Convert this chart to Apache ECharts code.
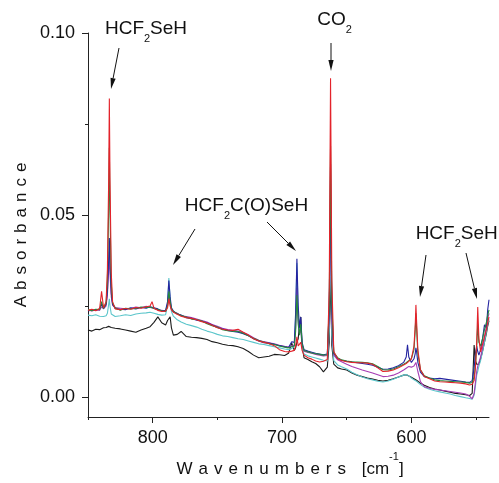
<!DOCTYPE html>
<html>
<head>
<meta charset="utf-8">
<script src="https://cdn.jsdelivr.net/npm/echarts@6/dist/echarts.min.js"></script>
<style>html,body{margin:0;padding:0;background:#fff;}#c{width:499px;height:483px;}</style>
</head>
<body>
<div id="c"></div>
<script>
// Wavenumbers (cm-1)
var wavenumbers = [850, 847, 844, 841, 839.5, 838, 836, 835, 834, 833.5,
 833, 832, 831, 829, 825, 821, 817, 813, 809, 805,
 802, 800.5, 799, 796, 793, 790, 788.5, 787.5, 786.5, 785.5,
 784, 781, 778, 774, 770, 766, 762, 758, 754, 750,
 746, 742, 738, 734, 730, 726, 722, 718, 714, 710,
 706, 702, 698, 695, 692.5, 690.5, 689.5, 688.5, 687.5, 686.5,
 685.5, 684.5, 683, 680, 677, 674, 671, 668, 665, 663.5,
 662.5, 661.5, 660, 657, 654, 650, 646, 642, 638, 634,
 630, 626, 622, 618, 614, 610, 606, 604, 603, 602,
 600, 598, 597, 596.5, 596, 595, 593, 590, 586, 582,
 578, 574, 570, 566, 562, 558, 555, 553, 551.5, 550.5,
 549.5, 548.7, 547.8, 546.5, 545, 543.5, 542, 541, 540];

var redSpec = [.0238, .0241, .0237, .0243, .0290, .0245, .0262, .0350, .0600, .0820,
 .0600, .0340, .0262, .0242, .0240, .0243, .0241, .0246, .0244, .0248,
 .0250, .0262, .0244, .0238, .0235, .0236, .0245, .0270, .0250, .0240,
 .0233, .0227, .0222, .0218, .0216, .0212, .0207, .0203, .0197, .0190,
 .0186, .0184, .0183, .0186, .0178, .0170, .0160, .0154, .0150, .0147,
 .0141, .0130, .0125, .0124, .0126, .0128, .0140, .0165, .0140, .0135,
 .0150, .0128, .0115, .0108, .0104, .0099, .0096, .0098, .0103, .0300,
 .0876, .0320, .0125, .0105, .0100, .0097, .0095, .0094, .0094, .0093,
 .0090, .0080, .0070, .0071, .0074, .0080, .0088, .0092, .0095, .0098,
 .0105, .0140, .0200, .0253, .0210, .0130, .0075, .0056, .0050, .0044,
 .0042, .0041, .0040, .0039, .0038, .0036, .0033, .0035, .0045, .0080,
 .0150, .0247, .0160, .0124, .0145, .0165, .0185, .0205, .0220];

var greenSpec = [.0240, .0237, .0241, .0240, .0262, .0243, .0258, .0320, .0520, .0685,
 .0510, .0310, .0258, .0245, .0238, .0244, .0242, .0243, .0247, .0246,
 .0247, .0250, .0243, .0240, .0237, .0235, .0250, .0290, .0262, .0242,
 .0235, .0229, .0224, .0220, .0214, .0213, .0209, .0201, .0196, .0192,
 .0185, .0182, .0181, .0180, .0175, .0168, .0161, .0155, .0151, .0146,
 .0144, .0140, .0137, .0135, .0138, .0140, .0180, .0280, .0200, .0170,
 .0200, .0145, .0128, .0124, .0121, .0119, .0117, .0115, .0116, .0250,
 .0690, .0260, .0122, .0108, .0102, .0099, .0097, .0096, .0095, .0094,
 .0091, .0084, .0075, .0074, .0077, .0083, .0090, .0094, .0097, .0100,
 .0105, .0130, .0185, .0230, .0190, .0120, .0075, .0058, .0052, .0047,
 .0045, .0044, .0043, .0042, .0041, .0040, .0038, .0040, .0055, .0085,
 .0140, .0200, .0150, .0140, .0160, .0185, .0205, .0225, .0239];

var navySpec = [.0236, .0239, .0238, .0242, .0255, .0244, .0255, .0290, .0380, .0437,
 .0370, .0285, .0255, .0243, .0241, .0240, .0245, .0242, .0246, .0244,
 .0248, .0249, .0245, .0242, .0236, .0238, .0262, .0320, .0275, .0245,
 .0236, .0228, .0225, .0218, .0216, .0211, .0208, .0204, .0198, .0191,
 .0187, .0183, .0180, .0178, .0174, .0168, .0160, .0154, .0149, .0148,
 .0145, .0141, .0138, .0136, .0152, .0150, .0230, .0380, .0250, .0190,
 .0220, .0150, .0130, .0126, .0123, .0120, .0118, .0116, .0118, .0240,
 .0640, .0240, .0120, .0106, .0101, .0098, .0096, .0094, .0092, .0090,
 .0087, .0082, .0076, .0077, .0080, .0086, .0095, .0110, .0143, .0110,
 .0095, .0105, .0120, .0135, .0125, .0095, .0068, .0056, .0052, .0050,
 .0051, .0049, .0047, .0045, .0043, .0041, .0040, .0045, .0080, .0120,
 .0140, .0125, .0115, .0130, .0160, .0198, .0190, .0240, .0267];

var magentaSpec = [.0239, .0236, .0240, .0238, .0248, .0242, .0250, .0280, .0350, .0400,
 .0340, .0275, .0252, .0246, .0244, .0242, .0243, .0247, .0245, .0249,
 .0246, .0248, .0244, .0239, .0238, .0236, .0255, .0280, .0258, .0240,
 .0234, .0230, .0223, .0221, .0218, .0214, .0210, .0206, .0199, .0194,
 .0189, .0185, .0183, .0181, .0177, .0171, .0163, .0156, .0152, .0149,
 .0146, .0142, .0139, .0137, .0140, .0142, .0190, .0300, .0210, .0175,
 .0185, .0140, .0126, .0122, .0120, .0117, .0115, .0113, .0114, .0220,
 .0550, .0210, .0115, .0102, .0097, .0090, .0084, .0079, .0074, .0070,
 .0066, .0061, .0056, .0057, .0060, .0066, .0074, .0079, .0083, .0084,
 .0082, .0085, .0090, .0095, .0090, .0070, .0042, .0028, .0024, .0021,
 .0019, .0017, .0015, .0013, .0011, .0008, .0002, -.0005, .0010, .0040,
 .0070, .0085, .0095, .0110, .0135, .0165, .0195, .0215, .0230];

var cyanSpec = [.0225, .0223, .0226, .0222, .0224, .0221, .0223, .0230, .0255, .0270,
 .0250, .0228, .0224, .0221, .0223, .0226, .0224, .0228, .0230, .0231,
 .0233, .0232, .0230, .0227, .0225, .0226, .0252, .0327, .0270, .0235,
 .0222, .0212, .0206, .0200, .0196, .0192, .0186, .0181, .0177, .0172,
 .0168, .0166, .0163, .0160, .0158, .0154, .0150, .0146, .0144, .0141,
 .0138, .0135, .0132, .0130, .0133, .0140, .0220, .0368, .0230, .0180,
 .0195, .0135, .0118, .0113, .0110, .0107, .0104, .0101, .0099, .0180,
 .0450, .0170, .0100, .0088, .0083, .0077, .0068, .0061, .0055, .0050,
 .0047, .0043, .0041, .0044, .0049, .0055, .0060, .0062, .0060, .0058,
 .0052, .0047, .0045, .0044, .0043, .0040, .0034, .0027, .0021, .0017,
 .0014, .0011, .0008, .0004, .0001, -.0002, -.0004, -.0006, .0005, .0030,
 .0060, .0070, .0085, .0100, .0125, .0150, .0180, .0200, .0215];

var blackSpec = [.0184, .0181, .0186, .0185, .0189, .0190, .0191, .0192, .0194, .0195,
 .0193, .0191, .0190, .0189, .0187, .0184, .0181, .0178, .0184, .0189,
 .0193, .0198, .0205, .0220, .0204, .0198, .0210, .0214, .0220, .0190,
 .0170, .0172, .0180, .0166, .0164, .0163, .0161, .0158, .0152, .0149,
 .0145, .0142, .0141, .0138, .0133, .0125, .0115, .0108, .0110, .0112,
 .0117, .0116, .0114, .0120, .0148, .0128, .0135, .0150, .0160, .0200,
 .0220, .0140, .0108, .0103, .0097, .0092, .0083, .0069, .0082, .0150,
 .0350, .0140, .0090, .0080, .0077, .0074, .0066, .0060, .0056, .0052,
 .0049, .0046, .0044, .0046, .0050, .0055, .0060, .0061, .0060, .0058,
 .0054, .0050, .0048, .0047, .0046, .0043, .0038, .0032, .0026, .0022,
 .0019, .0016, .0013, .0010, .0008, .0006, .0004, .0010, .0143, .0100,
 .0090, .0085, .0090, .0105, .0125, .0150, .0175, .0195, .0210];

var xMajorTicks = [800, 700, 600];
var xMinorTicks = [850, 750, 650, 550];
var yMajorTicks = [0, 0.05, 0.10];
var yMinorTicks = [0.025, 0.075];

var FONT = 'Liberation Sans, Arial, Helvetica, sans-serif';
var AX = '#222';

function pairs(arr) { return wavenumbers.map(function (x, i) { return [x, arr[i]]; }); }
function spaced(str, st) { return str.split('').map(function (c) { return '{' + st + '|' + c + '}'; }).join(''); }

var seriesDefs = [
  { name: 'black', data: blackSpec, color: '#1b1b1b' },
  { name: 'cyan', data: cyanSpec, color: '#5cc6cb' },
  { name: 'magenta', data: magentaSpec, color: '#a63cb4' },
  { name: 'navy', data: navySpec, color: '#2424a0' },
  { name: 'green', data: greenSpec, color: '#23893c' },
  { name: 'red', data: redSpec, color: '#e3232b' }
];

var series = seriesDefs.map(function (s, k) {
  return {
    name: s.name, type: 'line', data: pairs(s.data), showSymbol: false, symbol: 'none',
    lineStyle: { width: 1.1, color: s.color }, itemStyle: { color: s.color },
    z: 2 + k, animation: false, silent: true
  };
});

// annotation arrows (pixel positions: start -> tip)
var arrows = [
  [119, 48, 111, 89],
  [331, 43, 331, 71],
  [195, 229, 173, 265],
  [267, 222, 296, 251],
  [426, 255, 420, 297],
  [466, 253, 477, 299]
];
var graphics = [];
arrows.forEach(function (a) {
  var dx = a[2] - a[0], dy = a[3] - a[1];
  var L = Math.sqrt(dx * dx + dy * dy), ux = dx / L, uy = dy / L;
  var hl = 11, hw = 2.6;
  var bx = a[2] - ux * hl, by = a[3] - uy * hl;
  graphics.push({ type: 'line', shape: { x1: a[0], y1: a[1], x2: bx, y2: by }, style: { stroke: '#111', lineWidth: 1 }, silent: true });
  graphics.push({ type: 'polygon', shape: { points: [[a[2], a[3]], [bx - uy * hw, by + ux * hw], [bx + uy * hw, by - ux * hw]] }, style: { fill: '#111' }, silent: true });
});

var annRich = {
  n: { fontSize: 19, lineHeight: 30, fontFamily: FONT, color: '#111' },
  s: { fontSize: 11, lineHeight: 11, verticalAlign: 'bottom', fontFamily: FONT, color: '#111' }
};
var labels = [
  [146, 14, '{n|HCF}{s|2}{n|SeH}'],
  [334.5, 5, '{n|CO}{s|2}'],
  [246.5, 191, '{n|HCF}{s|2}{n|C(O)SeH}'],
  [456.7, 219, '{n|HCF}{s|2}{n|SeH}']
];
labels.forEach(function (t) {
  graphics.push({ type: 'text', x: t[0], y: t[1], silent: true,
    style: { text: t[2], align: 'center', verticalAlign: 'top', rich: annRich, fill: '#111' } });
});

// Y axis title (letter spaced)
graphics.push({ type: 'text', x: 21, y: 235, rotation: Math.PI / 2, silent: true,
  style: { text: spaced('Absorbance', 'l'), align: 'center', verticalAlign: 'middle', fill: '#111',
    rich: { l: { fontSize: 17, fontFamily: FONT, color: '#111', padding: [0, 3, 0, 3] } } } });

var xName = spaced('Wavenumbers', 'l') + '{sp| }' + '{t|[cm}{u|-1}{t|]}';

var option = {
  animation: false,
  backgroundColor: '#fff',
  grid: { left: 88, right: 10, top: 33, bottom: 66 },
  xAxis: [
    { type: 'value', min: 540, max: 850, inverse: true, position: 'bottom',
      axisLine: { show: true, onZero: false, lineStyle: { color: AX, width: 1 } },
      axisTick: { show: true, length: 6, customValues: xMajorTicks, lineStyle: { color: AX } },
      axisLabel: { customValues: xMajorTicks, fontSize: 18, fontFamily: FONT, color: '#111', margin: 12 },
      splitLine: { show: false },
      name: xName, nameLocation: 'middle', nameGap: 31,
      nameTextStyle: { rich: {
        l: { fontSize: 17, lineHeight: 34, fontFamily: FONT, color: '#111', padding: [0, 3, 0, 3] },
        sp: { fontSize: 17, lineHeight: 34, fontFamily: FONT, padding: [0, 4, 0, 4] },
        t: { fontSize: 17, lineHeight: 34, fontFamily: FONT, color: '#111' },
        u: { fontSize: 11, lineHeight: 11, verticalAlign: 'top', fontFamily: FONT, color: '#111' }
      } } },
    { type: 'value', min: 540, max: 850, inverse: true, position: 'bottom',
      axisLine: { show: false, onZero: false },
      axisTick: { show: true, length: 3, customValues: xMinorTicks, lineStyle: { color: AX } },
      axisLabel: { show: false }, splitLine: { show: false } }
  ],
  yAxis: [
    { type: 'value', min: -0.0055, max: 0.10, position: 'left',
      axisLine: { show: true, onZero: false, lineStyle: { color: AX, width: 1 } },
      axisTick: { show: true, length: 6, customValues: yMajorTicks, lineStyle: { color: AX } },
      axisLabel: { customValues: yMajorTicks, fontSize: 18, fontFamily: FONT, color: '#111', margin: 13,
        formatter: function (v) { return v.toFixed(2); } },
      splitLine: { show: false } },
    { type: 'value', min: -0.0055, max: 0.10, position: 'left',
      axisLine: { show: false, onZero: false },
      axisTick: { show: true, length: 3, customValues: yMinorTicks, lineStyle: { color: AX } },
      axisLabel: { show: false }, splitLine: { show: false } }
  ],
  series: series,
  graphic: graphics
};

var chart = echarts.init(document.getElementById('c'), null, { renderer: 'canvas' });
chart.setOption(option);
</script>
</body>
</html>
